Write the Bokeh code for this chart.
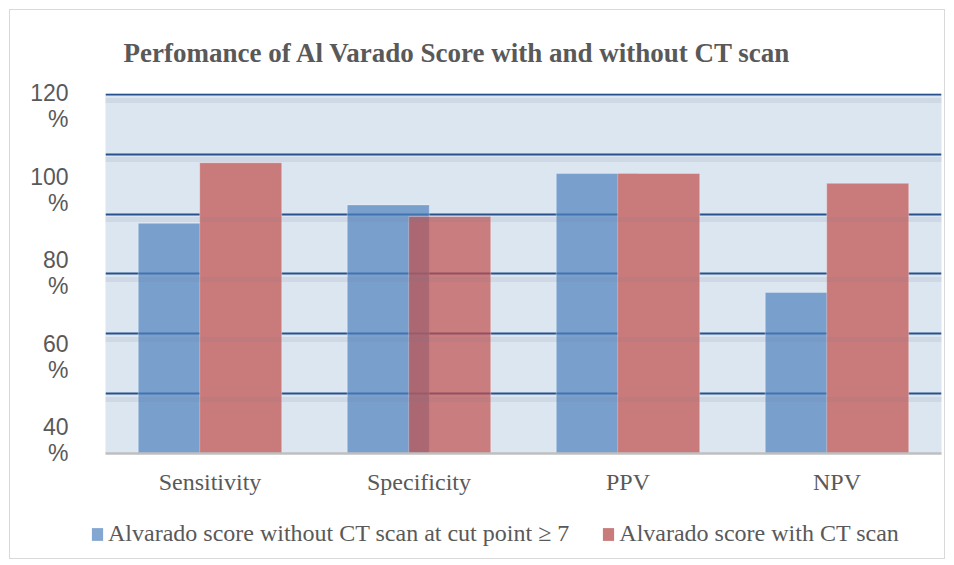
from bokeh.plotting import figure
from bokeh.models import (Range1d, FactorRange, FixedTicker, Grid,
                          Legend, LegendItem, ColumnDataSource)
from bokeh.transform import dodge
from bokeh.embed import file_html
from bokeh.resources import INLINE
import numpy as np

# ---------------- data ----------------
categories = ["Sensitivity", "Specificity", "PPV", "NPV"]
without_ct = [91.3, 95.4, 102.4, 75.9]
with_ct = [104.8, 92.8, 102.4, 100.2]
series_names = ["Alvarado score without CT scan at cut point \u2265 7",
                "Alvarado score with CT scan"]
title_text = "Perfomance of Al Varado Score with and without CT scan"
ytick_values = [120, 100, 80, 60, 40]
ytick_text = ["120", "100", "80", "60", "40"]
ytick_unit = "%"
y_min, y_max = 40, 120
n_grid = 6

# ---------------- styling ----------------
BLUE = "#4F81BD"
RED = "#C0504D"
RED_FLAT = "#c97b7b"
TEXT = "#595959"
BG = "#dce6f1"
GRID = "#27508e"
FRAME = "1px solid #d9d9d9"

red_fill = [RED if w < wo else RED_FLAT for w, wo in zip(with_ct, without_ct)]
red_alpha = [0.7 if w < wo else 1.0 for w, wo in zip(with_ct, without_ct)]

src = ColumnDataSource(dict(cat=categories, wo=without_ct, w=with_ct,
                            rfill=red_fill, ralpha=red_alpha))

p = figure(x_range=FactorRange(factors=categories),
           y_range=Range1d(y_min, y_max + 0.22),
           width=936, height=490, output_backend="svg", toolbar_location=None,
           min_border_left=95, min_border_right=5, min_border_top=83,
           min_border_bottom=47)
p.styles = {"border": FRAME, "border-bottom": "0px", "margin-left": "9px",
            "margin-top": "9px"}

p.background_fill_color = BG
p.border_fill_color = "white"
p.outline_line_color = None

# title
p.title.text = title_text
p.title.text_font = "Liberation Serif"
p.title.text_font_style = "bold"
p.title.text_font_size = "27px"
p.title.text_color = TEXT
p.title.align = "left"
p.title.offset = 18
p.title.vertical_align = "top"
p.title.standoff = 47

# grid
grid_ticks = list(np.linspace(y_min, y_max, n_grid + 1)[1:])
p.xgrid.visible = False
p.ygrid.ticker = FixedTicker(ticks=grid_ticks)
p.ygrid.grid_line_color = GRID
p.ygrid.grid_line_width = 2

# bars
bw = 0.3925
rb = p.vbar(x=dodge("cat", -0.147, range=p.x_range), top="wo", bottom=y_min, width=bw,
            source=src, fill_color=BLUE, fill_alpha=0.7,
            line_color="white", line_alpha=0.3, line_width=1)
rr = p.vbar(x=dodge("cat", 0.147, range=p.x_range), top="w", bottom=y_min, width=bw,
            source=src, fill_color="rfill", fill_alpha="ralpha",
            line_color="white", line_alpha=0.3, line_width=1)

# soft shadow under each grid line (drawn over the bars)
shadow = Grid(dimension=1, ticker=FixedTicker(ticks=[t - 1.25 for t in grid_ticks]),
              grid_line_color="#6a7a90", grid_line_alpha=0.11, grid_line_width=5,
              level="annotation")
p.add_layout(shadow)

# y axis: number and unit on two lines
ya = p.yaxis[0]
label_pos = [80.2 + (v - 80) * 0.93 for v in ytick_values]
ya.ticker = FixedTicker(ticks=label_pos)
ya.major_label_overrides = {pos: f"{t}\n{ytick_unit}" for pos, t in zip(label_pos, ytick_text)}
ya.major_label_text_font = "Liberation Sans"
ya.major_label_text_font_size = "23px"
ya.major_label_text_color = TEXT
ya.major_label_text_line_height = 1.0
ya.axis_line_color = None
ya.major_tick_line_color = None
ya.minor_tick_line_color = None
ya.major_label_standoff = 31

# x axis
xa = p.xaxis[0]
xa.major_label_text_font = "Liberation Serif"
xa.major_label_text_font_size = "24px"
xa.major_label_text_color = TEXT
xa.axis_line_color = "#bfbfbf"
xa.axis_line_width = 2.5
xa.major_tick_line_color = None
xa.minor_tick_line_color = None
xa.major_label_standoff = 9

# ---------------- legend strip (separate root, no frame alignment) ----------------
q = figure(width=936, height=60, x_range=Range1d(0, 1), y_range=Range1d(0, 1),
           output_backend="svg", toolbar_location=None,
           x_axis_location=None, y_axis_location=None,
           min_border_left=0, min_border_right=0, min_border_top=0,
           min_border_bottom=0)
q.styles = {"border": FRAME, "border-top": "0px", "margin-left": "9px"}
q.xgrid.visible = False
q.ygrid.visible = False
q.outline_line_color = None
q.background_fill_color = "white"
q.border_fill_color = "white"
# zero-size key glyphs that only carry the series styling for the legend
lb = q.vbar(x=[0.5], top=[0.0], bottom=[0.0], width=0.0,
            fill_color=BLUE, fill_alpha=0.7, line_color=None)
lr = q.vbar(x=[0.5], top=[0.0], bottom=[0.0], width=0.0,
            fill_color=RED_FLAT, fill_alpha=1.0, line_color=None)

legend = Legend(items=[LegendItem(label=series_names[0], renderers=[lb]),
                       LegendItem(label=series_names[1], renderers=[lr])],
                location=(80, 12), orientation="horizontal",
                label_text_font="Liberation Serif", label_text_font_size="24px",
                label_text_color=TEXT, glyph_width=14, glyph_height=16,
                label_standoff=4, spacing=32, padding=0, margin=0,
                border_line_color=None, background_fill_alpha=0)
q.add_layout(legend)

open("out.html", "w").write(file_html([p, q], INLINE))
